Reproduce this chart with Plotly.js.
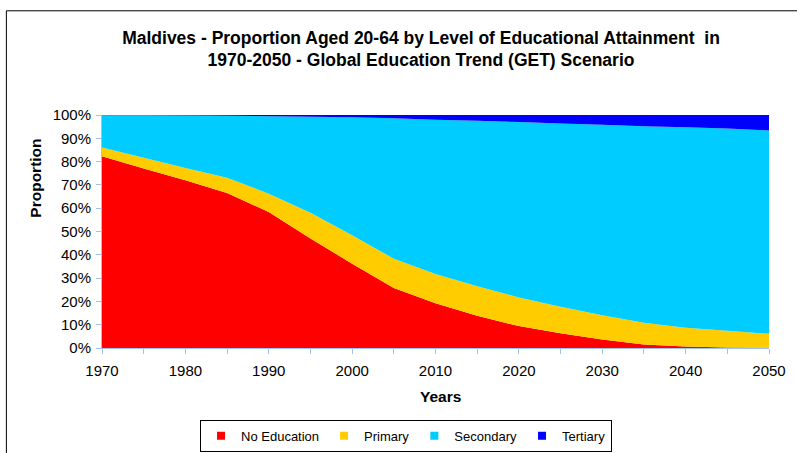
<!DOCTYPE html>
<html>
<head>
<meta charset="utf-8">
<script src="https://cdn.plot.ly/plotly-3.0.1.min.js"></script>
<style>html,body{margin:0;padding:0;background:#fff;}#chart{width:797px;height:453px;}</style>
</head>
<body>
<div id="chart"></div>
<script>
const years = [1970,1975,1980,1985,1990,1995,2000,2005,2010,2015,2020,2025,2030,2035,2040,2045,2050];
const noEducation = [82.3,77.0,72.0,66.5,58.4,47.0,36.2,25.8,19.2,13.8,9.4,6.3,3.6,1.5,0.6,0.2,0.1];
const primary     = [3.7,4.7,5.3,6.6,7.8,11.0,12.2,12.5,12.6,12.7,12.3,11.4,10.5,9.3,8.1,7.2,6.0];
const secondary   = [13.9,18.2,22.5,26.6,33.3,41.3,50.6,60.3,66.2,71.0,75.3,78.7,81.7,84.4,86.0,86.8,87.3];
const tertiary    = [0.1,0.1,0.2,0.3,0.5,0.7,1.0,1.4,2.0,2.5,3.0,3.6,4.2,4.8,5.3,5.8,6.6];
const seriesNames = ['No Education','Primary','Secondary','Tertiary'];
const seriesColors = ['#FF0000','#FFCC00','#00CCFF','#0000FF'];
const seriesValues = [noEducation, primary, secondary, tertiary];

const FONT = 'Arial, "Liberation Sans", sans-serif';
const axisColor = '#9FC3EE';

const traces = [];
seriesValues.forEach((vals, i) => {
  traces.push({
    x: years, y: vals, type: 'scatter', mode: 'none',
    stackgroup: 'one', fillcolor: seriesColors[i],
    line: {width: 0}, name: seriesNames[i], showlegend: false,
    hoverinfo: 'x+y+name'
  });
});
// legend entries (square markers)
seriesNames.forEach((n, i) => {
  traces.push({
    x: [null], y: [null], type: 'scatter', mode: 'markers',
    marker: {symbol: 'square', size: 8, color: seriesColors[i]},
    name: n, showlegend: true, hoverinfo: 'skip'
  });
});

const L = 101.7, R = 769.3, T = 114.7, B = 347.7;
const W = 797, H = 453;
const px = v => (v - L) / (R - L);
const py = v => (B - v) / (B - T);

const layout = {
  width: W, height: H,
  margin: {l: L, r: W - R, t: T, b: H - B, pad: 0, autoexpand: false},
  paper_bgcolor: '#fff', plot_bgcolor: '#fff',
  font: {family: FONT, size: 15, color: '#000'},
  title: {
    text: 'Maldives - Proportion Aged 20-64 by Level of Educational Attainment  in<br>1970-2050 - Global Education Trend (GET) Scenario',
    font: {family: FONT, size: 17.5, color: '#000', weight: 'bold'},
    xref: 'paper', x: px(421), xanchor: 'center',
    yref: 'container', y: 1 - 43.5 / H, yanchor: 'middle'
  },
  xaxis: {
    range: [1970, 2050], tickmode: 'linear', tick0: 1970, dtick: 10,
    ticks: 'outside', ticklen: 5, tickcolor: axisColor, tickwidth: 1,
    minor: {dtick: 5, ticks: 'outside', ticklen: 5, tickcolor: axisColor, tickwidth: 1, showgrid: false},
    showline: true, linecolor: axisColor, linewidth: 1,
    showgrid: false, zeroline: false, ticklabelstandoff: 4,
    tickfont: {family: FONT, size: 15, color: '#000'}
  },
  yaxis: {
    range: [0, 100], tickmode: 'linear', tick0: 0, dtick: 10, ticksuffix: '%',
    ticks: 'outside', ticklen: 5, tickcolor: axisColor, tickwidth: 1,
    showline: true, linecolor: axisColor, linewidth: 1,
    showgrid: false, zeroline: false, ticklabelstandoff: 2,
    tickfont: {family: FONT, size: 15, color: '#000'}
  },
  showlegend: true,
  legend: {
    orientation: 'h', traceorder: 'normal',
    x: px(406), xanchor: 'center', y: py(451.5), yanchor: 'bottom',
    bordercolor: '#000', borderwidth: 1, bgcolor: '#fff',
    font: {family: FONT, size: 13, color: '#000'},
    itemwidth: 30, tracegroupgap: 0,
    itemclick: false, itemdoubleclick: false
  },
  annotations: [
    {text: '<b>Proportion</b>', textangle: -90, xref: 'paper', yref: 'paper',
     x: px(35), y: py(178), xanchor: 'center', yanchor: 'middle', showarrow: false,
     font: {family: FONT, size: 15.5, color: '#000'}},
    {text: '<b>Years</b>', xref: 'paper', yref: 'paper',
     x: px(441), y: py(396), xanchor: 'center', yanchor: 'middle', showarrow: false,
     font: {family: FONT, size: 15.5, color: '#000'}}
  ],
  shapes: [
    {type: 'rect', xref: 'paper', yref: 'paper', x0: px(6), x1: px(815), y0: py(10.5), y1: py(470),
     line: {color: '#000', width: 1}, fillcolor: 'rgba(0,0,0,0)', layer: 'below'}
  ]
};

Plotly.newPlot('chart', traces, layout, {displayModeBar: false, staticPlot: true});
</script>
</body>
</html>
